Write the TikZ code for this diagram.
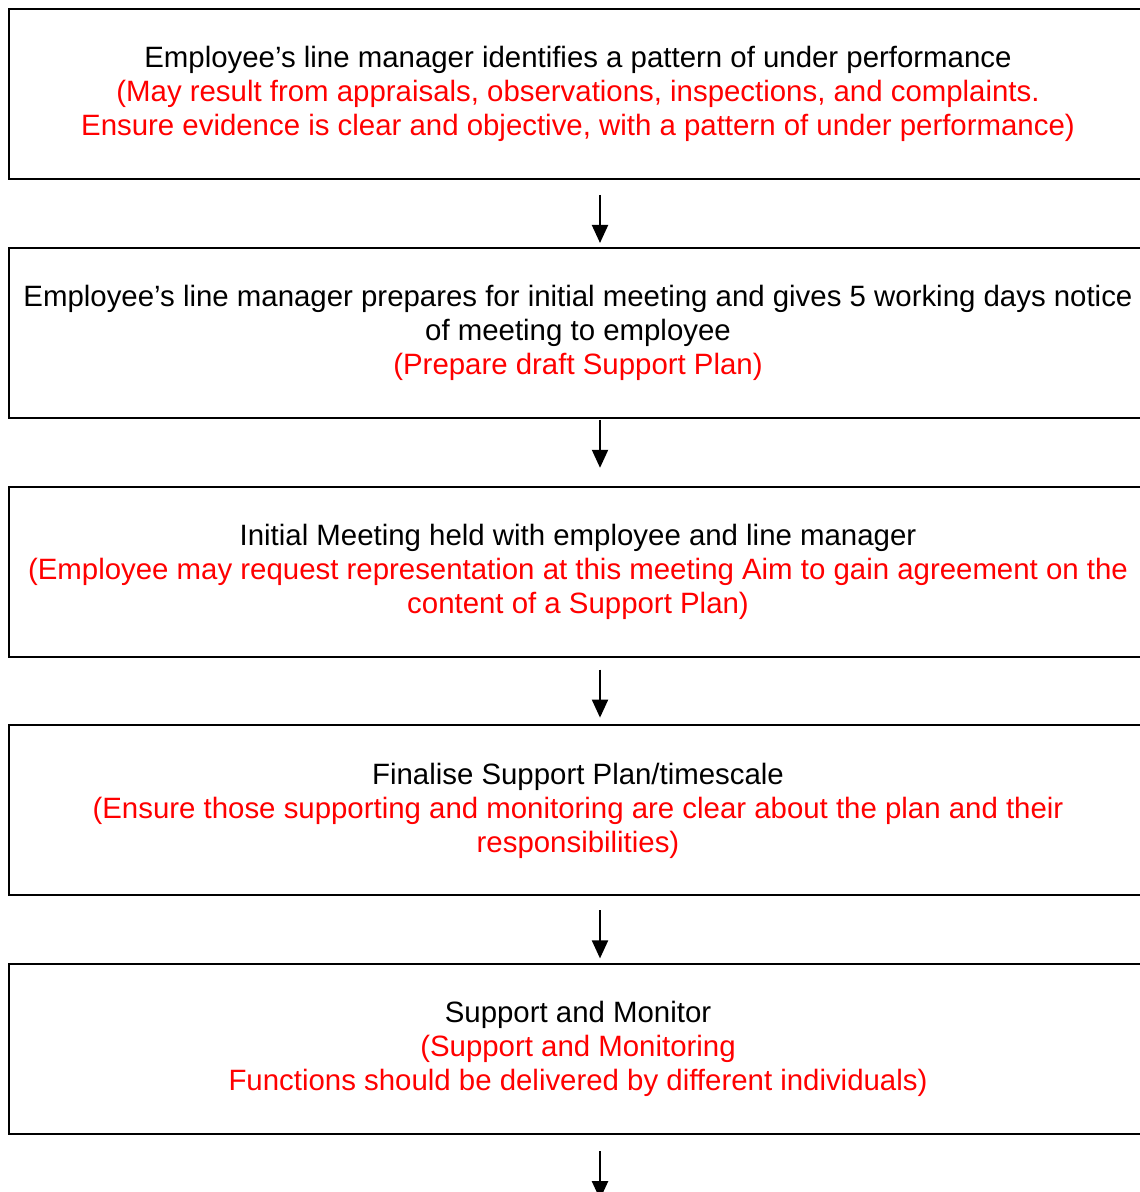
\documentclass[tikz,border=0pt]{standalone}
\usepackage{fontspec}
\setmainfont{Liberation Sans}
\usetikzlibrary{calc,positioning,arrows.meta}
\tikzset{
>={Triangle[length=9pt,width=8pt]},
  stage/.style={
    rectangle,
    draw=black, line width=1pt,
    minimum width=569.5pt,
    minimum height=85pt,
    inner sep=0pt,
    align=center,
    font=\fontsize{14.7}{17}\selectfont},
  line/.style={draw, line width=1pt, ->},
}
\newcommand{\aside}[1]{\textcolor{red}{#1}}

\begin{document}
\begin{tikzpicture}[x=0.5pt,y=0.5pt,node distance=33.4pt]
        \useasboundingbox (0,0) rectangle (1139,-1192);
        \node[stage] (identify) at (578,-94)
          {Employee’s line manager identifies a pattern of under performance\\
           \aside{(May result from appraisals, observations, inspections, and complaints.}\\
           \aside{Ensure evidence is clear and objective, with a pattern of under performance)}};
        \node[stage, below=of identify] (prepare)
          {Employee’s line manager prepares for initial meeting and gives 5 working days notice\\
           of meeting to employee\\
           \aside{(Prepare draft Support Plan)}};
        \node[stage, below=of prepare] (meeting)
          {Initial Meeting held with employee and line manager\\
           \aside{(Employee may request representation at this meeting Aim to gain agreement on the}\\
           \aside{content of a Support Plan)}};
        \node[stage, below=of meeting] (finalise)
          {Finalise Support Plan/timescale\\
           \aside{(Ensure those supporting and monitoring are clear about the plan and their}\\
           \aside{responsibilities)}};
        \node[stage, below=of finalise] (monitor)
          {Support and Monitor\\
           \aside{(Support and Monitoring}\\
           \aside{Functions should be delivered by different individuals)}};
        % arrows below each stage
        \foreach \a/\s in {identify/15,prepare/1,meeting/12,finalise/14,monitor/16}
          \path[line] ($(\a.south)+(22,-\s)$) -- ++(0,-48);
      \end{tikzpicture}
\end{document}
